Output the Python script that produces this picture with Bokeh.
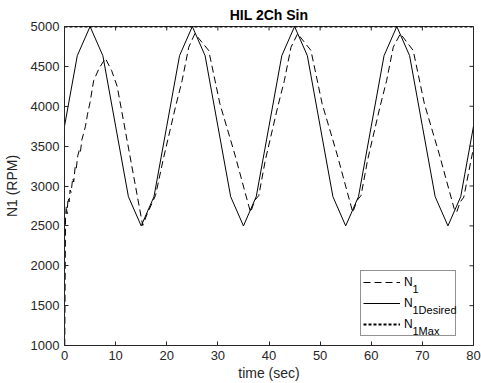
import math
from bokeh.plotting import figure
from bokeh.models import Legend, LegendItem, Label, Range1d, FixedTicker
from bokeh.embed import file_html
from bokeh.resources import INLINE

# ---------------- data ----------------
time_desired = [0.0, 2.5, 5.0, 7.5, 10.0, 12.5, 15.0, 17.5,
                20.0, 22.5, 25.0, 27.5, 30.0, 32.5, 35.0, 37.5,
                40.0, 42.5, 45.0, 47.5, 50.0, 52.5, 55.0, 57.5,
                60.0, 62.5, 65.0, 67.5, 70.0, 72.5, 75.0, 77.5, 80.0]
n1_desired = [3750, 4634, 5000, 4634, 3750, 2866, 2500, 2866,
              3750, 4634, 5000, 4634, 3750, 2866, 2500, 2866,
              3750, 4634, 5000, 4634, 3750, 2866, 2500, 2866,
              3750, 4634, 5000, 4634, 3750, 2866, 2500, 2866, 3750]

time_n1 = [0.0, 0.05, 0.2, 0.35, 0.5, 0.7, 0.9, 1.1, 1.3, 1.6, 1.8, 2.1, 2.3,
           2.6, 2.9, 3.1, 3.4, 3.7, 4.1, 4.5, 5.0, 5.7, 6.8, 8.0, 9.2, 10.3,
           15.3, 16.2, 17.8,
           19.3, 21.7, 23.0, 24.3, 25.5, 28.2, 30.4, 33.3, 36.0, 36.4, 37.2, 38.0,
           39.3, 41.7, 43.0, 44.3, 45.6, 48.2, 50.4, 53.3, 56.0, 56.4, 57.2, 58.0,
           59.3, 61.7, 63.0, 64.3, 65.7, 68.2, 70.4, 73.3, 76.2, 76.7, 77.4, 78.1,
           80.0]
n1_measured = [1000, 1000, 2600, 2750, 2650, 2850, 2800, 2950, 2920, 3100, 3050, 3250, 3220,
               3380, 3450, 3420, 3580, 3650, 3750, 3900, 4050, 4320, 4480, 4600, 4450, 4250,
               2505, 2655, 2880,
               3330, 3990, 4320, 4740, 4910, 4700, 4030, 3400, 2760, 2670, 2818, 2880,
               3330, 3990, 4320, 4740, 4910, 4700, 4030, 3400, 2760, 2670, 2818, 2880,
               3330, 3990, 4320, 4740, 4910, 4700, 4030, 3400, 2720, 2670, 2800, 2860,
               3480]

time_max = [0.0, 80.0]
n1_max = [5000, 5000]

x_ticks = [0, 10, 20, 30, 40, 50, 60, 70, 80]
y_ticks = [1000, 1500, 2000, 2500, 3000, 3500, 4000, 4500, 5000]

title_text = "HIL 2Ch Sin"
x_label = "time (sec)"
y_label = "N1 (RPM)"
legend_main = ["N", "N", "N"]
legend_sub = ["1", "1Desired", "1Max"]

# ---------------- styling ----------------
FONT = "Liberation Sans"
AX = "#262626"
X0, X1 = 0, 80
Y0, Y1 = 1000, 5000

p = figure(width=481, height=383, output_backend="svg", toolbar_location=None,
           x_range=Range1d(X0, X1), y_range=Range1d(Y0, Y1),
           min_border_left=62, min_border_right=8, min_border_top=26, min_border_bottom=38)

p.title.text = title_text
p.title.align = "center"
p.title.text_font = FONT
p.title.text_font_size = "14px"
p.title.text_font_style = "bold"
p.title.text_color = "black"
p.title.standoff = 7

r_n1 = p.line(time_n1, n1_measured, line_color="black", line_width=1, line_dash="7 4")
r_des = p.line(time_desired, n1_desired, line_color="black", line_width=1)
r_max = p.line(time_max, n1_max, line_color="black", line_width=2.2, line_dash="3 2")

# inward ticks on the top and right edges (box on)
p.ray(x=x_ticks, y=[Y1] * len(x_ticks), length=4, length_units="screen",
      angle=-math.pi / 2, line_color=AX, line_width=1)
p.ray(x=[X1] * len(y_ticks), y=y_ticks, length=4, length_units="screen",
      angle=math.pi, line_color=AX, line_width=1)

p.xgrid.grid_line_color = None
p.ygrid.grid_line_color = None
p.outline_line_color = AX
p.outline_line_width = 1
p.background_fill_color = "white"
p.border_fill_color = "white"

for ax, ticks in ((p.xaxis[0], x_ticks), (p.yaxis[0], y_ticks)):
    ax.ticker = FixedTicker(ticks=ticks)
    ax.major_tick_in = 4
    ax.major_tick_out = 0
    ax.minor_tick_line_color = None
    ax.axis_line_color = AX
    ax.major_tick_line_color = AX
    ax.major_label_text_font = FONT
    ax.major_label_text_font_size = "13px"
    ax.major_label_text_color = AX
    ax.axis_label_text_font = FONT
    ax.axis_label_text_font_size = "14px"
    ax.axis_label_text_font_style = "normal"
    ax.axis_label_text_color = AX
    ax.major_label_standoff = 5

p.xaxis.axis_label = x_label
p.yaxis.axis_label = y_label
p.xaxis.axis_label_standoff = 2
p.yaxis.axis_label_standoff = 8

legend = Legend(items=[LegendItem(label=legend_main[0], renderers=[r_n1]),
                       LegendItem(label=legend_main[1], renderers=[r_des]),
                       LegendItem(label=legend_main[2], renderers=[r_max])],
                location=(296, 9), margin=0, padding=2, spacing=3,
                glyph_height=18, glyph_width=37, label_standoff=4, label_width=49,
                border_line_color=AX, border_line_width=1,
                background_fill_color="white", background_fill_alpha=0.0,
                label_text_font=FONT, label_text_font_size="12px", label_text_color="black")
p.add_layout(legend)

for sub, ypos in zip(legend_sub, [57, 36, 15]):
    p.add_layout(Label(x=348, y=ypos, x_units="screen", y_units="screen", text=sub,
                       text_font=FONT, text_font_size="11px", text_color="black",
                       text_baseline="middle", text_align="left"))

open("out.html", "w").write(file_html(p, INLINE))
